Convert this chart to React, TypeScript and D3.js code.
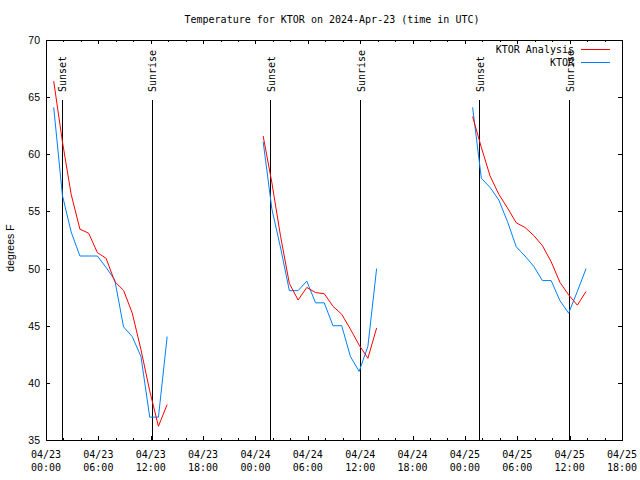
import React from 'react';
import * as d3 from 'd3';

// ---------- data ----------
const segmentDays = ['2024-04-23', '2024-04-24', '2024-04-25'];
const obsClock = ['00:53', '01:53', '02:53', '03:53', '04:53', '05:53', '06:53', '07:53', '08:53', '09:53', '10:53', '11:53', '12:53', '13:53'];

const analysisDay1 = [66.4, 61.1, 56.5, 53.45, 53.1, 51.4, 50.9, 48.85, 48.1, 46.1, 42.9, 39.3, 36.2, 38.1];
const analysisDay2 = [61.6, 57.5, 52.8, 48.7, 47.25, 48.35, 47.9, 47.8, 46.7, 46.0, 44.7, 43.3, 42.15, 44.8];
const analysisDay3 = [63.3, 60.6, 58.1, 56.5, 55.3, 54.0, 53.6, 52.9, 52.0, 50.6, 48.8, 47.7, 46.8, 48.0];

const obsDay1 = [64.1, 56.4, 53.2, 51.1, 51.1, 51.1, 50.1, 49.0, 44.9, 44.05, 42.3, 37.0, 37.0, 44.05];
const obsDay2 = [61.1, 55.2, 51.8, 48.07, 48.07, 48.9, 47.0, 47.0, 45.0, 45.0, 42.3, 41.0, 43.2, 50.0];
const obsDay3 = [64.1, 57.9, 57.1, 56.0, 54.1, 51.9, 51.1, 50.2, 48.95, 48.95, 47.2, 46.1, 48.0, 50.0];

const sunsetTimes = ['2024-04-23 01:48', '2024-04-24 01:43', '2024-04-25 01:37'];
const sunriseTimes = ['2024-04-23 12:06', '2024-04-24 12:00', '2024-04-25 11:56'];

const yTicks = [35, 40, 45, 50, 55, 60, 65, 70];
const seriesNames = ['KTOR Analysis', 'KTOR'];
const seriesColors = ['#ff0000', '#0080ff'];

const title = 'Temperature for KTOR on 2024-Apr-23 (time in UTC)';
const yLabel = 'degrees F';

// ---------- helpers ----------
const parse = d3.utcParse('%Y-%m-%d %H:%M');
const toSeg = (day: string, vals: number[]) =>
  vals.map((v, i) => [parse(`${day} ${obsClock[i]}`) as Date, v] as [Date, number]);

const analysisSegs = [analysisDay1, analysisDay2, analysisDay3].map((v, i) => toSeg(segmentDays[i], v));
const obsSegs = [obsDay1, obsDay2, obsDay3].map((v, i) => toSeg(segmentDays[i], v));

const L = 46, R = 622, T = 40, B = 440;
const mono = '"DejaVu Sans Mono", "Liberation Mono", monospace';
const sans = '"Liberation Sans", Arial, sans-serif';

export default function App() {
  const x = d3.scaleUtc()
    .domain([new Date(Date.UTC(2024, 3, 23, 0)), new Date(Date.UTC(2024, 3, 25, 18))])
    .range([L, R]);
  const y = d3.scaleLinear().domain([35, 70]).range([B, T]);

  const majorX = x.ticks(d3.utcHour.every(6) as any);
  const minorX = x.ticks(d3.utcHour.every(2) as any).filter(d => d.getUTCHours() % 6 !== 0);

  const line = d3.line<[Date, number]>().x(d => x(d[0])).y(d => y(d[1]));

  const fmtDate = d3.utcFormat('%m/%d');
  const fmtTime = d3.utcFormat('%H:%M');

  const px = (v: number) => Math.round(v) + 0.5;

  return (
    <svg width={640} height={480} style={{ position: 'absolute', left: 0, top: 0, background: '#fff' }}>
      <rect x={0} y={0} width={640} height={480} fill="#fff" />

      {/* ticks */}
      <g stroke="#000" strokeWidth={1} shapeRendering="crispEdges">
        {majorX.map((d, i) => (
          <g key={'mx' + i}>
            <line x1={px(x(d))} x2={px(x(d))} y1={B} y2={B - 4} />
            <line x1={px(x(d))} x2={px(x(d))} y1={T} y2={T + 4} />
          </g>
        ))}
        {minorX.map((d, i) => (
          <g key={'nx' + i}>
            <line x1={px(x(d))} x2={px(x(d))} y1={B} y2={B - 2} />
            <line x1={px(x(d))} x2={px(x(d))} y1={T} y2={T + 2} />
          </g>
        ))}
        {yTicks.map((t, i) => (
          <g key={'yt' + i}>
            <line x1={L} x2={L + 4} y1={px(y(t))} y2={px(y(t))} />
            <line x1={R} x2={R - 4} y1={px(y(t))} y2={px(y(t))} />
          </g>
        ))}
      </g>

      {/* sun event lines */}
      <g stroke="#000" strokeWidth={1} shapeRendering="crispEdges">
        {[...sunsetTimes, ...sunriseTimes].map((s, i) => {
          const xx = px(x(parse(s) as Date));
          return <line key={'sl' + i} x1={xx} x2={xx} y1={100} y2={B} />;
        })}
      </g>
      <g fontFamily={mono} fontSize={10} fill="#000">
        {sunsetTimes.map((s, i) => {
          const xx = x(parse(s) as Date);
          return (
            <text key={'ss' + i} transform={`translate(${xx + 4.5},92) rotate(-90)`} textAnchor="start">Sunset</text>
          );
        })}
        {sunriseTimes.map((s, i) => {
          const xx = x(parse(s) as Date);
          return (
            <text key={'sr' + i} transform={`translate(${xx + 4.5},92) rotate(-90)`} textAnchor="start">Sunrise</text>
          );
        })}
      </g>

      {/* data lines */}
      <g fill="none" strokeWidth={1}>
        {obsSegs.map((seg, i) => (
          <path key={'o' + i} d={line(seg) || ''} stroke={seriesColors[1]} />
        ))}
        {analysisSegs.map((seg, i) => (
          <path key={'a' + i} d={line(seg) || ''} stroke={seriesColors[0]} />
        ))}
      </g>

      {/* border */}
      <rect x={L + 0.5} y={T + 0.5} width={R - L} height={B - T} fill="none" stroke="#000" strokeWidth={1} shapeRendering="crispEdges" />

      {/* x tick labels */}
      <g fontFamily={mono} fontSize={10} fill="#000" textAnchor="middle">
        {majorX.map((d, i) => (
          <g key={'xl' + i}>
            <text x={x(d)} y={458}>{fmtDate(d)}</text>
            <text x={x(d)} y={471}>{fmtTime(d)}</text>
          </g>
        ))}
      </g>

      {/* y tick labels */}
      <g fontFamily={sans} fontSize={10.5} fill="#000" textAnchor="end">
        {yTicks.map((t, i) => (
          <text key={'yl' + i} x={40} y={y(t) + 4}>{t}</text>
        ))}
      </g>

      {/* axis label */}
      <text transform="translate(14,248) rotate(-90)" textAnchor="middle" fontFamily={sans} fontSize={10.5} fill="#000">{yLabel}</text>

      {/* title */}
      <text x={332} y={23} textAnchor="middle" fontFamily={mono} fontSize={10} fill="#000">{title}</text>

      {/* legend */}
      <g fontFamily={mono} fontSize={10} fill="#000">
        {seriesNames.map((n, i) => (
          <g key={'lg' + i}>
            <text x={574} y={52.5 + i * 13} textAnchor="end">{n}</text>
            <line x1={581} x2={610} y1={49.5 + i * 13} y2={49.5 + i * 13} stroke={seriesColors[i]} strokeWidth={1} shapeRendering="crispEdges" />
          </g>
        ))}
      </g>
    </svg>
  );
}
